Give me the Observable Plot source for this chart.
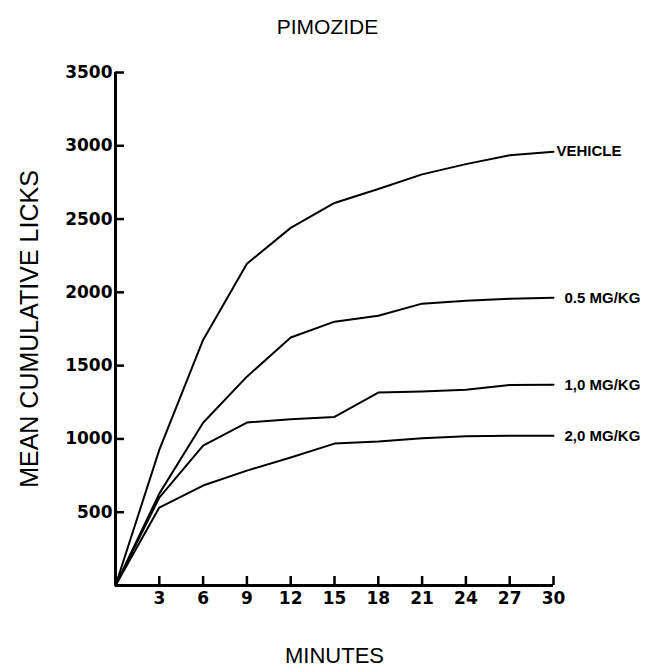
<!DOCTYPE html>
<html><head><meta charset="utf-8">
<script src="https://cdn.jsdelivr.net/npm/d3@7"></script>
<script src="https://cdn.jsdelivr.net/npm/@observablehq/plot@0.6"></script>
<style>body{margin:0;background:#fff}</style>
</head><body><div id="chart"></div>
<script>
const minutes = [0, 3, 6, 9, 12, 15, 18, 21, 24, 27, 30];
const vehicle = [0, 925, 1675, 2195, 2440, 2610, 2705, 2805, 2875, 2935, 2960];
const mg05 = [0, 627, 1110, 1425, 1692, 1800, 1841, 1923, 1943, 1956, 1963];
const mg10 = [0, 600, 955, 1112, 1134, 1150, 1316, 1323, 1335, 1368, 1370];
const mg20 = [0, 532, 682, 784, 873, 968, 982, 1005, 1018, 1022, 1022];
const seriesNames = ["VEHICLE", "0.5 MG/KG", "1,0 MG/KG", "2,0 MG/KG"];
const seriesValues = [vehicle, mg05, mg10, mg20];
const xTicks = [3, 6, 9, 12, 15, 18, 21, 24, 27, 30];
const yTicks = [500, 1000, 1500, 2000, 2500, 3000, 3500];
const title = "PIMOZIDE";
const xLabel = "MINUTES";
const yLabel = "MEAN CUMULATIVE LICKS";

const rows = seriesNames.flatMap((s, i) => minutes.map((m, j) => ({series: s, minute: m, licks: seriesValues[i][j]})));
const ends = rows.filter(d => d.minute === 30);

const chart = Plot.plot({
  width: 650, height: 667,
  marginLeft: 115, marginRight: 97, marginTop: 72, marginBottom: 82,
  x: {domain: [0, 30]},
  y: {domain: [0, 3500]},
  style: {background: "#fff", color: "#000"},
  marks: [
    Plot.axisY({ticks: yTicks, tickSize: 0, tickPadding: 3, tickFormat: d => String(d),
      fontFamily: "DejaVu Sans", fontWeight: "bold", fontSize: 17, label: null}),
    Plot.axisX({ticks: xTicks, tickSize: 0, tickPadding: 6, tickFormat: d => String(d),
      fontFamily: "DejaVu Sans", fontWeight: "bold", fontSize: 17, label: null}),
    Plot.ruleY(yTicks, {x1: 0, x2: 0, insetRight: -9, stroke: "#000", strokeWidth: 2.5}),
    Plot.ruleX(xTicks, {y1: 0, y2: 0, insetBottom: 9, stroke: "#000", strokeWidth: 2.5}),
    Plot.ruleX([0], {y1: 0, y2: 3500, stroke: "#000", strokeWidth: 3}),
    Plot.ruleY([0], {x1: 0, x2: 30, stroke: "#000", strokeWidth: 3}),
    Plot.line(rows, {x: "minute", y: "licks", z: "series", stroke: "#000", strokeWidth: 2}),
    Plot.text(ends.filter(d => d.series === "VEHICLE"), {x: "minute", y: "licks", text: "series", textAnchor: "start", dx: 3,
      fontFamily: "Liberation Sans", fontWeight: "bold", fontSize: 15, letterSpacing: -1}),
    Plot.text(ends.filter(d => d.series !== "VEHICLE"), {x: "minute", y: "licks", text: "series", textAnchor: "start", dx: 11,
      fontFamily: "Liberation Sans", fontWeight: "bold", fontSize: 15, letterSpacing: -0.5}),
    Plot.text([title], {frameAnchor: "top", lineAnchor: "middle", textAnchor: "middle", dy: -45, dx: -7, fontFamily: "Liberation Sans", fontSize: 21}),
    Plot.text([xLabel], {frameAnchor: "bottom", lineAnchor: "middle", textAnchor: "middle", dy: 70, fontFamily: "Liberation Sans", fontSize: 22}),
    Plot.text([yLabel], {frameAnchor: "left", lineAnchor: "middle", textAnchor: "middle", dx: -86, rotate: -90, fontFamily: "Liberation Sans", fontSize: 25, letterSpacing: 1.5})
  ]
});
document.getElementById("chart").append(chart);
</script>
</body></html>
